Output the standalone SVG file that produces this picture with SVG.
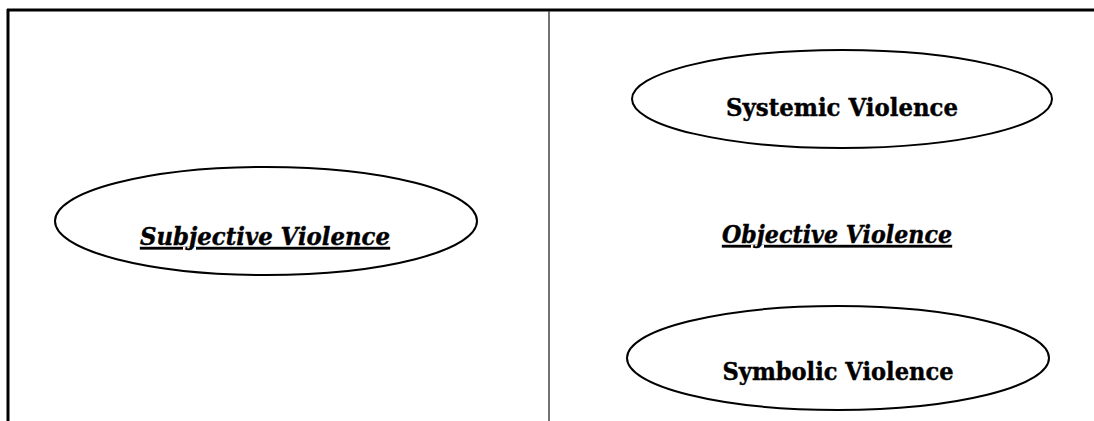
<svg xmlns="http://www.w3.org/2000/svg" width="1094" height="421" viewBox="0 0 1094 421">
<style>
.node ellipse{fill:#fff;stroke:#000;stroke-width:2}
.t{font-family:"DejaVu Serif","Liberation Serif",serif;font-weight:bold;font-size:24px;fill:#000;stroke:#000;stroke-width:0.4}
.i{font-style:italic;text-decoration:underline}
</style>
<rect width="1094" height="421" fill="#fff"/>
<g id="frame">
<line x1="7" y1="10" x2="1094" y2="10" stroke="#000" stroke-width="3"/>
<line x1="8" y1="9" x2="8" y2="421" stroke="#000" stroke-width="3"/>
<line x1="549" y1="11" x2="549" y2="421" stroke="#444" stroke-width="1.5"/>
</g>
<g id="subjective" class="node">
<ellipse cx="266" cy="221" rx="211" ry="54"/>
<text class="t i" x="265" y="245" text-anchor="middle" textLength="250" lengthAdjust="spacingAndGlyphs">Subjective Violence</text>
</g>
<g id="systemic" class="node">
<ellipse cx="842" cy="99" rx="210" ry="49"/>
<text class="t" x="842" y="116" text-anchor="middle" textLength="232" lengthAdjust="spacingAndGlyphs">Systemic Violence</text>
</g>
<g id="objective" class="node">
<text class="t i" x="837" y="243" text-anchor="middle" textLength="230" lengthAdjust="spacingAndGlyphs">Objective Violence</text>
</g>
<g id="symbolic" class="node">
<ellipse cx="838" cy="358" rx="211" ry="52"/>
<text class="t" x="838" y="380" text-anchor="middle" textLength="231" lengthAdjust="spacingAndGlyphs">Symbolic Violence</text>
</g>
<g id="connectors"></g>
</svg>
